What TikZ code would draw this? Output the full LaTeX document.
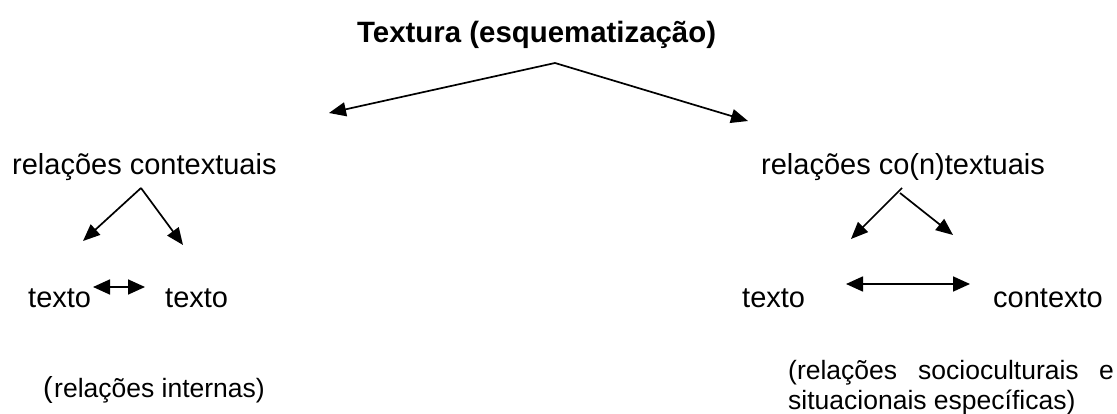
\documentclass[tikz,border=0pt]{standalone}
\usepackage{fontspec}
\setmainfont{Liberation Sans}
\usetikzlibrary{arrows.meta}
\tikzset{
 lbl/.style={inner sep=0pt,anchor=base west,font=\fontsize{29pt}{32pt}\selectfont},
 small/.style={inner sep=0pt,anchor=base west,font=\fontsize{26.5pt}{30pt}\selectfont},
 arr/.style={line width=1.7pt,-{Triangle[length=17pt,width=14pt]}},
 darr/.style={line width=1.7pt,{Triangle[length=17pt,width=15pt]}-{Triangle[length=17pt,width=15pt]}}
}
\begin{document}
\begin{tikzpicture}[x=1pt,y=-1pt]
\useasboundingbox (0,0) rectangle (1117,414);
\node[lbl,font=\fontsize{29.4pt}{32pt}\selectfont\bfseries] (title) at (357,43) {Textura (esquematização)};
\node[lbl] (rc) at (12,175) {relações contextuais};
\node[lbl] (rn) at (761,175) {relações co(n)textuais};
\node[lbl] (t1) at (28,308) {texto};
\node[lbl] (t2) at (165,308) {texto};
\node[lbl] (t3) at (742,308) {texto};
\node[lbl] (ctx) at (993,308) {contexto};
\node[lbl] (p1) at (43,397) {(};
\node[small] (p1b) at (54,397) {relações internas)};
\node[small] (p2) at (788,379) {(relações};
\node[small] (p2b) at (918,379) {socioculturais};
\node[small] (p2c) at (1099,379) {e};
\node[small] (p3) at (788,409) {situacionais específicas)};
\coordinate (top) at (555,63);
\coordinate (a1) at (329,113);
\coordinate (a2) at (748,121);
\coordinate (l) at (141,188);
\coordinate (l1) at (83,241);
\coordinate (l2) at (183,245);
\coordinate (r) at (902,188);
\coordinate (r1) at (851,239);
\coordinate (r0) at (900,193);
\coordinate (r2) at (953,235);
\draw[arr] (top)--(a1);
\draw[arr] (top)--(a2);
\draw[arr] (l)--(l1);
\draw[arr] (l)--(l2);
\draw[arr] (r)--(r1);
\draw[arr] (r0)--(r2);
\coordinate (d1) at (93,287);\coordinate (d2) at (145,287);
\coordinate (e1) at (846,284);\coordinate (e2) at (970,284);
\draw[darr] (d1)--(d2);
\draw[darr] (e1)--(e2);
\end{tikzpicture}
\end{document}
